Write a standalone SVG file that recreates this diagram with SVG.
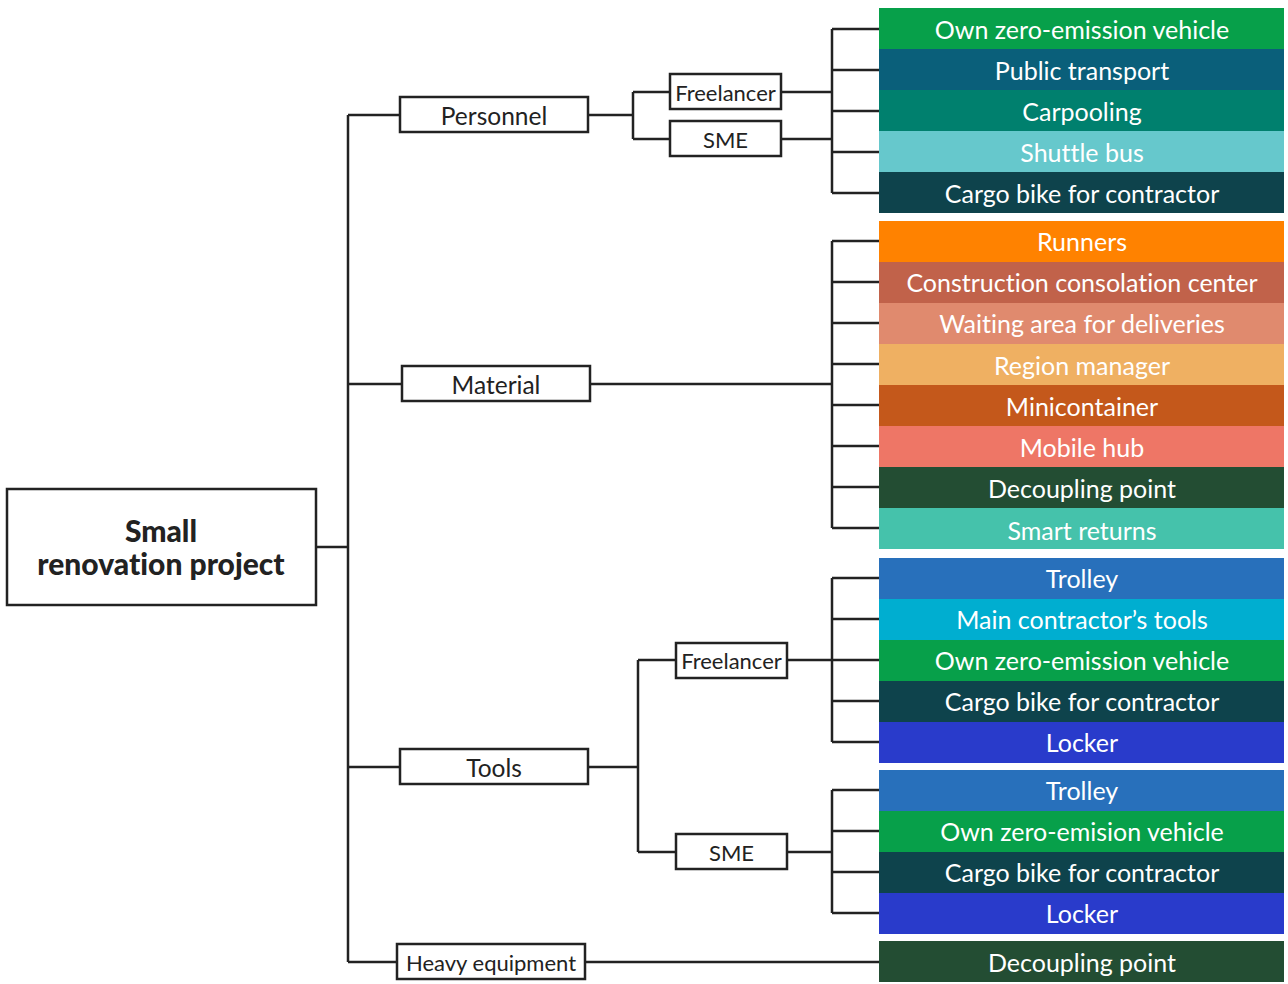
<svg xmlns="http://www.w3.org/2000/svg" width="1288" height="984" viewBox="0 0 1288 984">
<style>
text{font-variant-ligatures:none}
.box{fill:#fff;stroke:#222;stroke-width:2.5}
.lbl{font-family:Lato,"Open Sans","Liberation Sans",sans-serif;font-size:22px;fill:#222;text-anchor:middle;dominant-baseline:central}
.big{font-size:24.5px}
.bar text{font-family:Lato,"Open Sans","Liberation Sans",sans-serif;font-size:25px;fill:#fff;text-anchor:middle;dominant-baseline:central}
.root{font-family:Lato,"Open Sans","Liberation Sans",sans-serif;font-size:30px;font-weight:900;fill:#222;text-anchor:middle}
#connectors path{fill:none;stroke:#222;stroke-width:2.5}
</style>
<rect width="1288" height="984" fill="#fff"/>
<g id="connectors">
<path d="M316 547H348M348 115V962M348 115H400M348 384H402M348 767H400M348 962H397"/>
<path d="M588 115H633M633 92V139M633 92H670M633 139H670M781 92H832M781 139H832M832 29V193M832 29H879M832 70H879M832 111H879M832 152H879M832 193H879"/>
<path d="M590 384H832M832 241V528M832 241H879M832 282H879M832 323H879M832 364H879M832 405H879M832 446H879M832 487H879M832 528H879"/>
<path d="M588 767H638M638 660V852M638 660H676M638 852H676M787 660H832M832 578V742M832 578H879M832 619H879M832 660H879M832 701H879M832 742H879"/>
<path d="M787 852H832M832 790V913M832 790H879M832 831H879M832 872H879M832 913H879"/>
<path d="M585 962H879"/>
</g>
<g id="root"><rect class="box" x="7" y="489" width="309" height="116"/><text class="root" x="161" y="542">Small</text><text class="root" x="161" y="575">renovation project</text></g>
<g id="personnel"><rect class="box" x="400" y="97" width="188" height="35"/><text class="lbl big" x="494" y="115">Personnel</text></g>
<g id="p-freelancer"><rect class="box" x="670" y="74" width="111" height="35"/><text class="lbl" x="725.5" y="92">Freelancer</text></g>
<g id="p-sme"><rect class="box" x="670" y="121" width="111" height="35"/><text class="lbl" x="725.5" y="139">SME</text></g>
<g id="material"><rect class="box" x="402" y="366" width="188" height="35"/><text class="lbl big" x="496" y="384">Material</text></g>
<g id="tools"><rect class="box" x="400" y="749" width="188" height="35"/><text class="lbl big" x="494" y="767">Tools</text></g>
<g id="t-freelancer"><rect class="box" x="676" y="643" width="111" height="35"/><text class="lbl" x="731.5" y="660">Freelancer</text></g>
<g id="t-sme"><rect class="box" x="676" y="834" width="111" height="35"/><text class="lbl" x="731.5" y="852">SME</text></g>
<g id="heavy"><rect class="box" x="397" y="944" width="188" height="35"/><text class="lbl" x="491" y="962">Heavy equipment</text></g>
<g class="bar" id="bar1"><rect x="879" y="8" width="405" height="41" fill="#07a04a"/><text x="1082" y="29">Own zero-emission vehicle</text></g>
<g class="bar" id="bar2"><rect x="879" y="49" width="405" height="41" fill="#0a5f7a"/><text x="1082" y="70">Public transport</text></g>
<g class="bar" id="bar3"><rect x="879" y="90" width="405" height="41" fill="#00806e"/><text x="1082" y="111">Carpooling</text></g>
<g class="bar" id="bar4"><rect x="879" y="131" width="405" height="41" fill="#66c8cc"/><text x="1082" y="152">Shuttle bus</text></g>
<g class="bar" id="bar5"><rect x="879" y="172" width="405" height="41" fill="#0e434c"/><text x="1082" y="193">Cargo bike for contractor</text></g>
<g class="bar" id="bar6"><rect x="879" y="221" width="405" height="41" fill="#ff8200"/><text x="1082" y="241">Runners</text></g>
<g class="bar" id="bar7"><rect x="879" y="262" width="405" height="41" fill="#c1624a"/><text x="1082" y="282">Construction consolation center</text></g>
<g class="bar" id="bar8"><rect x="879" y="303" width="405" height="41" fill="#e08a6e"/><text x="1082" y="323">Waiting area for deliveries</text></g>
<g class="bar" id="bar9"><rect x="879" y="344" width="405" height="41" fill="#efb062"/><text x="1082" y="365">Region manager</text></g>
<g class="bar" id="bar10"><rect x="879" y="385" width="405" height="41" fill="#c4581b"/><text x="1082" y="406">Minicontainer</text></g>
<g class="bar" id="bar11"><rect x="879" y="426" width="405" height="41" fill="#ee7666"/><text x="1082" y="447">Mobile hub</text></g>
<g class="bar" id="bar12"><rect x="879" y="467" width="405" height="41" fill="#234d33"/><text x="1082" y="488">Decoupling point</text></g>
<g class="bar" id="bar13"><rect x="879" y="508" width="405" height="41" fill="#45c2ab"/><text x="1082" y="530">Smart returns</text></g>
<g class="bar" id="bar14"><rect x="879" y="558" width="405" height="41" fill="#2870bb"/><text x="1082" y="578">Trolley</text></g>
<g class="bar" id="bar15"><rect x="879" y="599" width="405" height="41" fill="#00aed0"/><text x="1082" y="619">Main contractor’s tools</text></g>
<g class="bar" id="bar16"><rect x="879" y="640" width="405" height="41" fill="#07a04a"/><text x="1082" y="660">Own zero-emission vehicle</text></g>
<g class="bar" id="bar17"><rect x="879" y="681" width="405" height="41" fill="#0e434c"/><text x="1082" y="701">Cargo bike for contractor</text></g>
<g class="bar" id="bar18"><rect x="879" y="722" width="405" height="41" fill="#293bcb"/><text x="1082" y="742">Locker</text></g>
<g class="bar" id="bar19"><rect x="879" y="770" width="405" height="41" fill="#2870bb"/><text x="1082" y="790">Trolley</text></g>
<g class="bar" id="bar20"><rect x="879" y="811" width="405" height="41" fill="#07a04a"/><text x="1082" y="831">Own zero-emision vehicle</text></g>
<g class="bar" id="bar21"><rect x="879" y="852" width="405" height="41" fill="#0e434c"/><text x="1082" y="872">Cargo bike for contractor</text></g>
<g class="bar" id="bar22"><rect x="879" y="893" width="405" height="41" fill="#293bcb"/><text x="1082" y="913">Locker</text></g>
<g class="bar" id="bar23"><rect x="879" y="941" width="405" height="41" fill="#234d33"/><text x="1082" y="962">Decoupling point</text></g>
</svg>
